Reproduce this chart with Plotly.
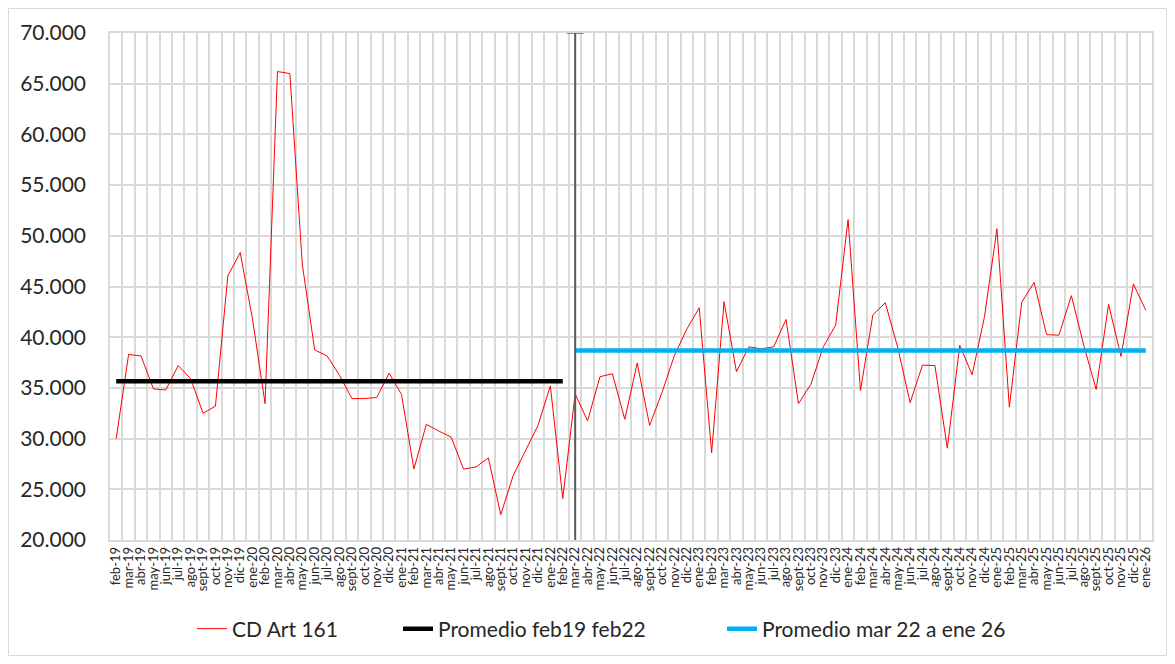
import plotly.graph_objects as go

# ---------------- data ----------------
months = [
    "feb-19", "mar-19", "abr-19", "may-19", "jun-19", "jul-19", "ago-19", "sept-19", "oct-19", "nov-19", "dic-19",
    "ene-20", "feb-20", "mar-20", "abr-20", "may-20", "jun-20", "jul-20", "ago-20", "sept-20", "oct-20", "nov-20", "dic-20",
    "ene-21", "feb-21", "mar-21", "abr-21", "may-21", "jun-21", "jul-21", "ago-21", "sept-21", "oct-21", "nov-21", "dic-21",
    "ene-22", "feb-22", "mar-22", "abr-22", "may-22", "jun-22", "jul-22", "ago-22", "sept-22", "oct-22", "nov-22", "dic-22",
    "ene-23", "feb-23", "mar-23", "abr-23", "may-23", "jun-23", "jul-23", "ago-23", "sept-23", "oct-23", "nov-23", "dic-23",
    "ene-24", "feb-24", "mar-24", "abr-24", "may-24", "jun-24", "jul-24", "ago-24", "sept-24", "oct-24", "nov-24", "dic-24",
    "ene-25", "feb-25", "mar-25", "abr-25", "may-25", "jun-25", "jul-25", "ago-25", "sept-25", "oct-25", "nov-25", "dic-25",
    "ene-26",
]

cd_art_161 = [
    30000, 38300, 38150, 34900, 34800, 37200, 35900, 32500, 33200, 46050, 48350,
    41700, 33450, 66200, 66000, 47200, 38750, 38150, 36250, 33950, 33950, 34050, 36450,
    34350, 27000, 31400, 30750, 30150, 27000, 27200, 28100, 22500, 26350, 28900, 31300,
    35200, 24100, 34400, 31750, 36100, 36400, 31900, 37450, 31300, 34550, 38200, 40800,
    42900, 28600, 43500, 36600, 39050, 38850, 39050, 41750, 33450, 35350, 39050, 41200,
    51600, 34750, 42200, 43400, 39000, 33550, 37250, 37200, 29050, 39200, 36300, 42050,
    50700, 33100, 43450, 45400, 40250, 40200, 44100, 39200, 34850, 43250, 38100, 45250,
    42650,
]

avg_period1_label = "Promedio feb19 feb22"
avg_period1_value = 35650
avg_period1_months = months[:months.index("feb-22") + 1]

avg_period2_label = "Promedio mar 22 a ene 26"
avg_period2_value = 38700
avg_period2_months = months[months.index("mar-22"):]

divider_month = "mar-22"
y_range = [20000, 70000]

# ---------------- figure ----------------
FONT = "Lato, 'Open Sans', sans-serif"
GRID = "#D9D9D9"
TXT = "#262626"
OFF = 8  # default page body margin
W, H = 1175 - 2 * OFF, 664 - 2 * OFF
L, T = 110 - OFF, 33 - OFF
PW, PH = 1042, 507
R, B = W - L - PW, H - T - PH


def px_x(p):  # page pixel -> paper x
    return (p - OFF - L) / PW


def px_y(p):  # page pixel -> paper y
    return (T + PH - (p - OFF)) / PH


fig = go.Figure()

fig.add_trace(go.Scatter(
    x=months, y=cd_art_161, mode="lines", name="CD Art 161",
    line=dict(color="#FF0000", width=1), legend="legend",
))
fig.add_trace(go.Scatter(
    x=avg_period1_months, y=[avg_period1_value] * len(avg_period1_months),
    mode="lines", name=avg_period1_label,
    line=dict(color="#000000", width=4.5), legend="legend2",
))
fig.add_trace(go.Scatter(
    x=avg_period2_months, y=[avg_period2_value] * len(avg_period2_months),
    mode="lines", name=avg_period2_label,
    line=dict(color="#00B0F0", width=4.5), legend="legend3",
))
# vertical divider with a cap on top
fig.add_trace(go.Scatter(
    x=[divider_month, divider_month], y=y_range, mode="lines+markers",
    line=dict(color="#595959", width=2),
    marker=dict(symbol="line-ew", size=[0, 12], color="#595959",
                line=dict(color="#595959", width=2)),
    showlegend=False, hoverinfo="skip", cliponaxis=False,
))

legend_common = dict(orientation="h", xanchor="left", yanchor="middle", y=px_y(629),
                     font=dict(family=FONT, size=21, color=TXT), bgcolor="rgba(0,0,0,0)")

fig.update_layout(
    width=W, height=H,
    margin=dict(l=L, r=R, t=T, b=B, autoexpand=False),
    paper_bgcolor="white", plot_bgcolor="white",
    separators=",.",
    font=dict(family=FONT, color=TXT),
    showlegend=True,
    legend=dict(x=px_x(192), **legend_common),
    legend2=dict(x=px_x(398), **legend_common),
    legend3=dict(x=px_x(722), **legend_common),
    xaxis=dict(
        type="category", categoryorder="array", categoryarray=months,
        tickmode="array", tickvals=months, ticktext=months,
        tickangle=-90, tickfont=dict(size=13, color=TXT),
        tickson="boundaries", ticks="", showgrid=True, gridcolor=GRID, gridwidth=1.5,
        showline=True, linecolor=GRID, linewidth=1.5, mirror=True,
        range=[-0.5, len(months) - 0.5], zeroline=False, automargin=False,
    ),
    yaxis=dict(
        range=y_range, dtick=5000, tickformat=",.0f",
        tickfont=dict(size=21, color=TXT),
        showgrid=True, gridcolor=GRID, gridwidth=1.5,
        showline=True, linecolor=GRID, linewidth=1.5, mirror=True,
        zeroline=False, ticks="outside", ticklen=18, tickcolor="rgba(0,0,0,0)",
        automargin=False,
    ),
    shapes=[dict(
        type="rect", xref="paper", yref="paper",
        x0=-L / PW + 0.5 / PW, x1=(PW + R - 0.5) / PW,
        y0=-(B - 0.5) / PH, y1=(PH + T - 0.5) / PH,
        line=dict(color=GRID, width=1), fillcolor="rgba(0,0,0,0)", layer="below",
    )],
)

fig.write_html("out.html")
